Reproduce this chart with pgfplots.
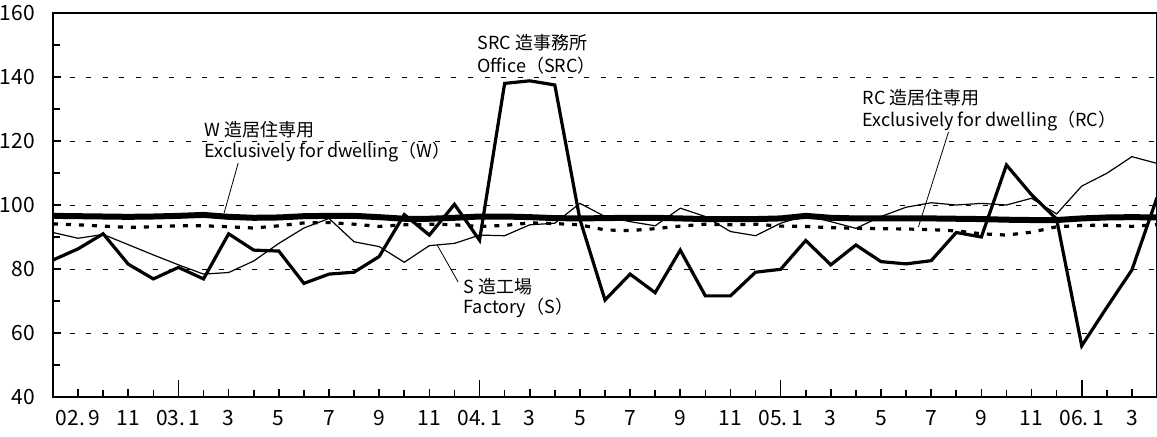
\documentclass[border=0pt]{standalone}
\usepackage{fontspec}
\setmainfont{Noto Sans CJK JP}
\usepackage{pgfplots}
\pgfplotsset{compat=1.18}
\usepackage{pgfplotstable}

% index 0 = 2002.8 ... 44 = 2006.4
\pgfplotstableread{
i  W     RC    S      SRC
0  96.6  94.1  91.4   82.8
1  96.5  93.8  89.6   86.3
2  96.4  93.4  90.8   91.0
3  96.3  93.0  87.6   81.5
4  96.4  93.2  84.4   76.9
5  96.6  93.5  81.3   80.5
6  96.9  93.5  78.4   76.9
7  96.3  93.2  78.9   91.0
8  96.0  92.8  82.5   85.9
9  96.1  93.5  88.0   85.6
10 96.5  94.4  92.8   75.5
11 96.6  94.5  95.8   78.4
12 96.6  94.0  88.5   79.0
13 96.2  93.3  87.0   83.9
14 95.7  93.8  82.1   97.0
15 95.7  94.0  87.3   90.6
16 96.0  93.8  88.0   100.2
17 96.4  93.3  90.6   89.0
18 96.4  93.6  90.4   138.0
19 96.2  94.4  93.8   138.8
20 95.9  94.2  94.3   137.5
21 95.8  93.8  100.5  95.5
22 95.9  92.2  96.4   70.3
23 96.0  92.0  94.8   78.4
24 96.0  92.6  93.5   72.6
25 95.8  93.4  99.0   85.9
26 95.6  94.0  96.4   71.6
27 95.6  93.8  91.7   71.6
28 95.6  94.0  90.4   79.0
29 95.8  93.4  94.3   79.9
30 96.6  93.3  96.7   88.9
31 96.0  92.9  94.8   81.3
32 95.8  92.7  92.7   87.5
33 95.8  92.6  96.4   82.3
34 95.8  92.5  99.3   81.6
35 95.8  92.3  100.7  82.6
36 95.7  91.9  100.0  91.4
37 95.6  91.0  100.5  90.0
38 95.4  90.6  100.0  112.5
39 95.3  91.5  102.1  103.2
40 95.3  93.2  97.2   95.6
41 95.8  93.6  105.9  56.0
42 96.1  93.7  109.9  68.0
43 96.2  93.3  115.1  79.7
44 96.1  93.9  113.0  102.3
}\datatable

\begin{document}
\begin{tikzpicture}
\useasboundingbox (-26.5pt,-20pt) rectangle (552pt,198.5pt);
\begin{axis}[
  scale only axis,
  width=552pt, height=192pt,
  xmin=0, xmax=44, ymin=40, ymax=160,
  axis line style={line width=0.8pt},
  tick align=inside,
  xtick pos=bottom, ytick pos=left,
  xtick={1,3,...,43},
  xticklabels={02.\,9,11,03.\,1,3,5,7,9,11,04.\,1,3,5,7,9,11,05.\,1,3,5,7,9,11,06.\,1,3},
  minor xtick={0,...,44},
  extra x ticks={5,17,29,41},
  extra x tick labels={},
  extra x tick style={major tick length=8.5pt},
  ytick={40,60,...,160},
  minor ytick={50,70,...,150},
  major tick length=4pt, minor tick length=3.5pt,
  tick style={line width=0.8pt, black},
  ymajorgrids,
  grid style={dash pattern=on 2.5pt off 5.8pt, line width=0.4pt, black},
  /pgf/number format/assume math mode=true,
  tick label style={font=\fontsize{10.5}{12}\selectfont},
  y tick label style={xshift=-5.5pt},
  x tick label style={yshift=-3pt},
  every node near coord/.append style={font=\small},
]
\addplot[black, line width=3pt] table[x=i, y=W] {\datatable};
\addplot[black, line width=1.6pt, dash pattern=on 2.5pt off 4pt] table[x=i, y=RC] {\datatable};
\addplot[black, line width=0.6pt] table[x=i, y=S] {\datatable};
\addplot[black, line width=1.6pt] table[x=i, y=SRC] {\datatable};

\begin{scope}[every node/.style={font=\fontsize{9}{11}\selectfont, anchor=west, inner sep=0pt}]
\node at (axis cs:6.02,123.4) {W 造居住専用};
\node at (axis cs:6.02,116.6) {Exclusively for dwelling（W）};
\node at (axis cs:16.9,150.6) {SRC 造事務所};
\node at (axis cs:16.9,143.4) {Office（SRC）};
\node at (axis cs:32.26,133.4) {RC 造居住専用};
\node at (axis cs:32.26,126.25) {Exclusively for dwelling（RC）};
\node at (axis cs:16.35,74.4) {S 造工場};
\node at (axis cs:16.35,67.8) {Factory（S）};
\end{scope}
\draw[line width=0.4pt] (axis cs:7.38,113.1) -- (axis cs:6.82,97.5);
\draw[line width=0.4pt] (axis cs:35.69,122.8) -- (axis cs:34.49,93.1);
\draw[line width=0.4pt] (axis cs:15.31,87.5) -- (axis cs:16.15,75.9);
\end{axis}
\end{tikzpicture}
\end{document}
